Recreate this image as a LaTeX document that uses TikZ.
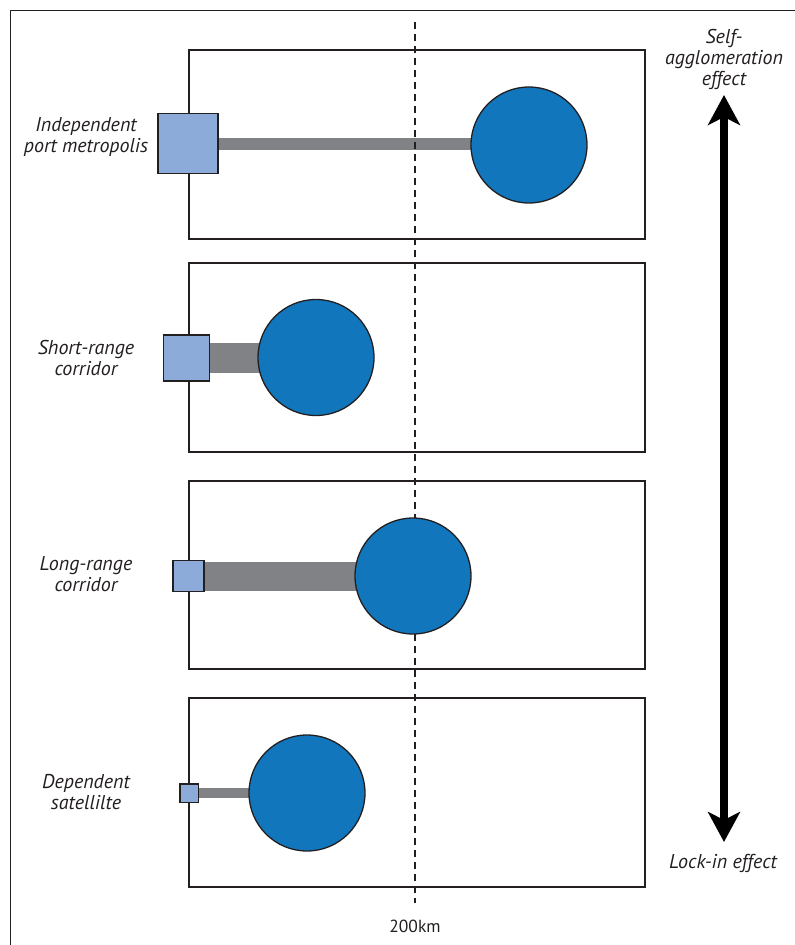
\documentclass[tikz,border=0pt]{standalone}
\usepackage{fontspec}
\setmainfont{PT Sans}
\usetikzlibrary{arrows.meta}
\definecolor{ink}{RGB}{35,31,32}
\definecolor{sqfill}{RGB}{140,171,216}
\definecolor{cfill}{RGB}{18,118,189}
\definecolor{barc}{RGB}{128,130,133}
\pgfdeclarelayer{background}
\pgfsetlayers{background,main}
\tikzset{
  frame/.style={draw=ink, line width=1.5pt},
  panel/.style={draw=ink, line width=1.5pt},
  port/.style={draw=ink, fill=sqfill, line width=1.5pt, rectangle, inner sep=0pt},
  city/.style={draw=ink, fill=cfill, line width=1.3pt, circle, inner sep=0pt, minimum size=116pt},
  bar/.style={draw=barc},
  lab/.style={align=center, font=\fontsize{20pt}{21pt}\selectfont\itshape, text=ink, inner sep=0pt},
  km/.style={font=\fontsize{17.5pt}{21pt}\selectfont, text=ink, inner sep=0pt},
  dashline/.style={draw=ink, line width=1.3pt, dash pattern=on 7pt off 5pt},
  bigarrow/.style={draw=black, line width=8pt, {Stealth[length=30pt, width=32pt, inset=8pt]}-{Stealth[length=30pt, width=32pt, inset=8pt]}}
}
\begin{document}
\begin{tikzpicture}[x=1pt, y=-1pt]
\useasboundingbox (0,0) rectangle (795,945);
% outer frame (only top and left visible)
\draw[frame] (10.5,945) -- (10.5,10.5) -- (795,10.5);

% cities
\node[city] (c1) at (529,145) {};
\node[city] (c2) at (316,357.5) {};
\node[city] (c3) at (413,576) {};
\node[city] (c4) at (307,793) {};

% ports
\node[port, minimum size=60pt] (p1) at (188,143.5) {};
\node[port, minimum size=46pt] (p2) at (186.5,358) {};
\node[port, minimum size=31pt] (p3) at (188.5,576) {};
\node[port, minimum size=18.5pt] (p4) at (189,793) {};

% labels
\node[lab] (l1) at (86,137) {Independent\\port metropolis};
\node[lab] (l2) at (86,358) {Short-range\\corridor};
\node[lab] (l3) at (86,574) {Long-range\\corridor};
\node[lab] (l4) at (86,792) {Dependent\\satellilte};
\node[lab] (top) at (724,59) {Self-\\agglomeration\\effect};
\node[lab] (bot) at (723,863) {Lock-in effect};
\node[km] (km) at (415,926) {200km};

% arrow
\coordinate (atop) at (724,95);
\coordinate (abot) at (724,842);
\draw[bigarrow] (abot) -- (atop);

\begin{pgfonlayer}{background}
  \draw[panel] (189,50) rectangle (645,239);
  \draw[panel] (189,263) rectangle (645,452);
  \draw[panel] (189,481) rectangle (645,669);
  \draw[panel] (189,698) rectangle (645,887);
  \draw[bar, line width=12pt] (p1.center) -- (p1.center -| c1.center);
  \draw[bar, line width=30pt] (p2.center) -- (p2.center -| c2.center);
  \draw[bar, line width=29pt] (p3.center) -- (p3.center -| c3.center);
  \draw[bar, line width=10.5pt] (p4.center) -- (p4.center -| c4.center);
  \coordinate (dtop) at (415,22);
  \coordinate (dbot) at (415,903);
  \draw[dashline] (dtop) -- (dbot);
\end{pgfonlayer}
\end{tikzpicture}
\end{document}
